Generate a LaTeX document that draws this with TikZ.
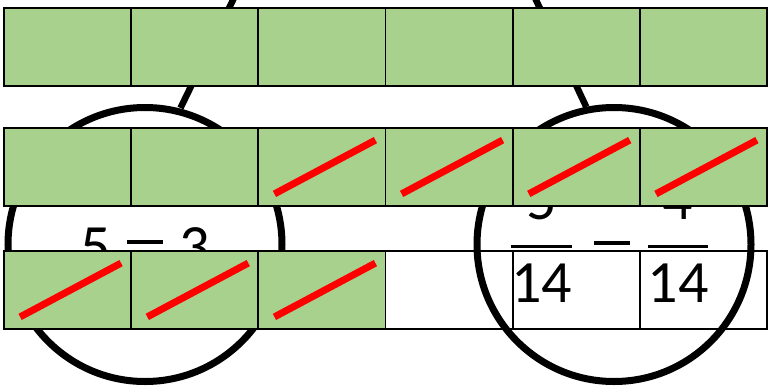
\documentclass[tikz,border=0pt]{standalone}
\usepackage{fontspec}
\setmainfont{Carlito}
\usetikzlibrary{calc}

\definecolor{barGreen}{HTML}{A9D18E}
\newcommand\minusbar[1][0pt]{\rule[#1]{0.6em}{0.065em}}
\newcommand\fracbox[2]{%
  \begin{tabular}[t]{@{}c@{}}
    #1\rule[-0.43em]{0pt}{0.5em}\\\hline
    \rule{0pt}{0.9em}#2
  \end{tabular}}
\renewcommand\arraystretch{0}
\setlength\arrayrulewidth{3.3pt}

\tikzset{
  cell/.style={draw, line width=1.8pt, minimum width=127.17pt, minimum height=78pt, inner sep=0pt},
  ring/.style={circle, draw, line width=7pt, minimum size=274pt, inner sep=0pt},
  link/.style={line width=6.5pt},
  slash/.style={red, line width=7pt},
  big/.style={font=\fontsize{60}{72}\selectfont, inner sep=0pt}
}

\begin{document}
\begin{tikzpicture}[x=1pt,y=-1pt]
\useasboundingbox (0,0) rectangle (769,389);
\clip (0,0) rectangle (769,389);

\coordinate (topL) at (242.7,-20);
\coordinate (footL) at (180.5,108);
\coordinate (topR) at (526.6,-20);
\coordinate (footR) at (586.3,107);
\draw[link] (topL) -- (footL);
\draw[link] (topR) -- (footR);

\node[ring] (ringL) at (145,244.5) {};
\node[ring] (ringR) at (614,244.5) {};

\node[big, anchor=base] (diffL) at (145,266.5) {5\kern.27em\minusbar[0.37em]\kern.27em3};
\node[big, anchor=base] (fracA) at (541.5,219) {\fracbox{5}{14}};
\node[big] (minusR) at (612,243) {\minusbar};
\node[big, anchor=base] (fracB) at (678,219) {\fracbox{4}{14}};

% bars
\foreach \r/\y in {1/47.3,2/167}
  \foreach \c in {1,...,6}
    \node[cell, fill=barGreen] (r\r c\c) at ({4+127.17*(\c-0.5)},\y) {};
\foreach \c in {1,...,3}
  \node[cell, fill=barGreen] (r3c\c) at ({4+127.17*(\c-0.5)},290) {};
\foreach \c in {4,...,6}
  \node[cell] (r3c\c) at ({4+127.17*(\c-0.5)},290) {};

% crossed out
\foreach \n in {r2c3,r2c4,r2c5,r2c6,r3c1,r3c2,r3c3}
  \draw[slash] ([shift={(17,-13)}]\n.south west) -- ([shift={(-11,13)}]\n.north east);

\end{tikzpicture}
\end{document}
